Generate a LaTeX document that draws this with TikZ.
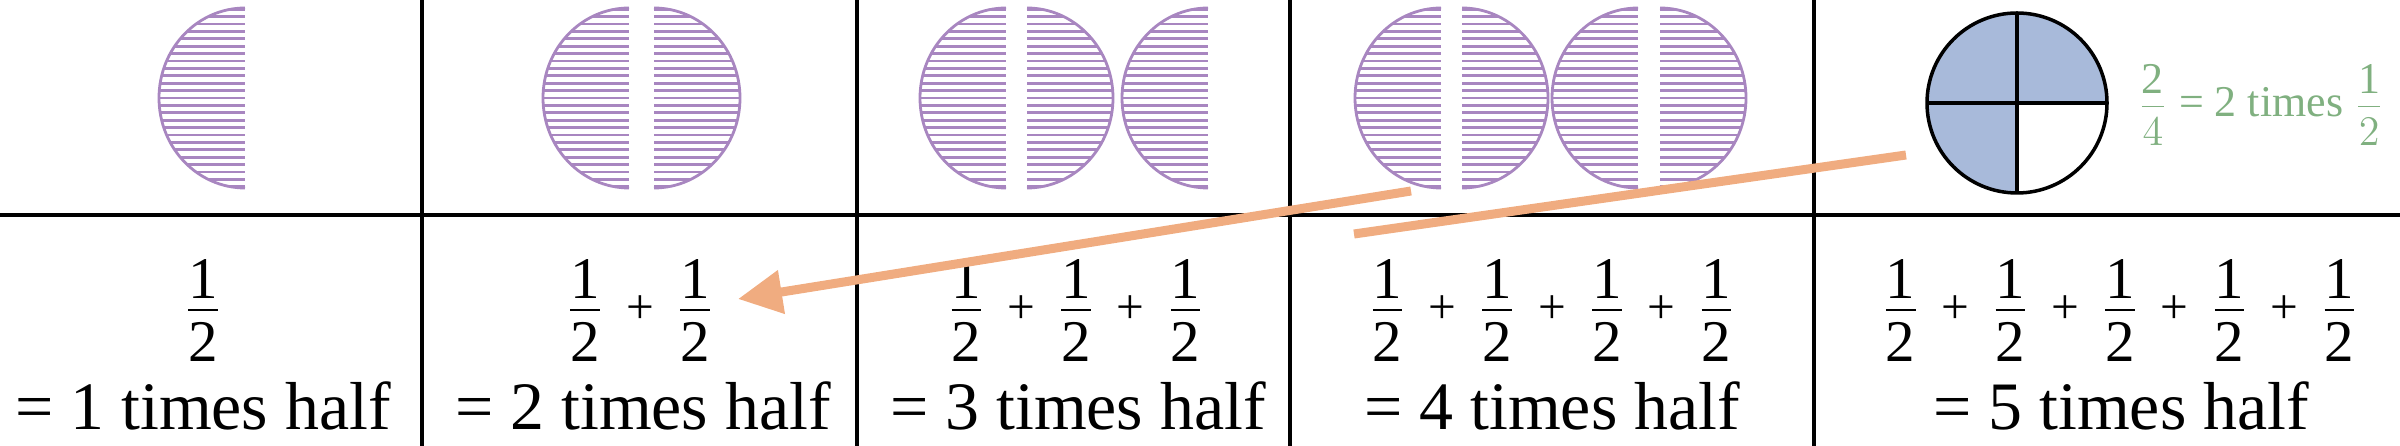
\documentclass[tikz,border=0pt]{standalone}
\usepackage{amsmath}
\usepackage{fontspec}
\setmainfont{Liberation Serif}
\usetikzlibrary{arrows.meta}
\definecolor{hatchpurple}{RGB}{168,134,192}
\definecolor{quarterblue}{RGB}{168,186,218}
\definecolor{notegreen}{RGB}{128,176,128}
\definecolor{pointer}{RGB}{240,172,128}
\tikzset{
  gridline/.style={line width=0.04cm},
  hatch/.style={hatchpurple, line width=0.028cm},
  rim/.style={hatchpurple, line width=0.028cm},
  quartline/.style={line width=0.035cm},
  sumrow/.style={inner sep=0, anchor=base, font=\fontsize{16.8}{20}\selectfont},
  wordrow/.style={inner sep=0, anchor=base, font=\fontsize{19.3}{23}\selectfont},
  notetext/.style={inner sep=0, anchor=base west, text=notegreen, font=\fontsize{12.5}{15}\selectfont},
  pointerline/.style={pointer, line width=0.09cm}
}
\newcommand{\hf}{\dfrac{\raisebox{-0.25em}[0pt][0pt]{1}}{\raisebox{0.09em}[0pt][0pt]{2}}}
\newcommand{\nf}[2]{\dfrac{\raisebox{-0.12em}[0pt][0pt]{#1}}{#2}}
\newcommand{\pl}{\mkern2.5mu\mathbin{\vcenter{\hbox{\fontsize{14}{14}\selectfont+}}}\mkern2.5mu}
\newcommand{\halfL}[1]{ \begin{scope} \clip (#1,438) arc[start angle=90,end angle=270,x radius=86,y radius=90] -- cycle; \foreach \hy in {-12,...,12} \draw[hatch] (#1-90,348+7.4*\hy) -- (#1,348+7.4*\hy); \end{scope} \draw[rim] (#1,438) arc[start angle=90,end angle=270,x radius=86,y radius=90];}
\newcommand{\halfR}[1]{ \begin{scope} \clip (#1,438) arc[start angle=90,end angle=-90,x radius=86,y radius=90] -- cycle; \foreach \hy in {-12,...,12} \draw[hatch] (#1,348+7.4*\hy) -- (#1+90,348+7.4*\hy); \end{scope} \draw[rim] (#1,438) arc[start angle=90,end angle=-90,x radius=86,y radius=90];}

\begin{document}
\begin{tikzpicture}[x=0.01cm,y=0.01cm]
        \useasboundingbox (0,0) rectangle (2400,446);
        % table
        \draw[gridline] (0,231) -- (2400,231);
        \foreach \gx in {422,857,1290,1814}
            \draw[gridline] (\gx,0) -- (\gx,446);

        % halves
        \halfL{245}
        \halfL{629} \halfR{654}
        \halfL{1006} \halfR{1027} \halfL{1208}
        \halfL{1441} \halfR{1462} \halfL{1638} \halfR{1660}

        % quarters
        \fill[quarterblue] (2017,343) -- ++(90,0) arc[start angle=0,end angle=270,radius=90] -- cycle;
        \draw[quartline] (2017,343) circle[radius=90];
        \draw[quartline] (1927,343) -- (2107,343) (2017,253) -- (2017,433);
        \node[notetext] (note) at (2137,329) {$\nf{2}{4}$ = 2 times $\nf{1}{2}$};

        % sums
        \node[sumrow] (sum1) at (203,121) {$\hf$};
        \node[sumrow] (sum2) at (640,121) {$\hf\pl\hf$};
        \node[sumrow] (sum3) at (1076,121) {$\hf\pl\hf\pl\hf$};
        \node[sumrow] (sum4) at (1552,121) {$\hf\pl\hf\pl\hf\pl\hf$};
        \node[sumrow] (sum5) at (2120,121) {$\hf\pl\hf\pl\hf\pl\hf\pl\hf$};

        \node[wordrow] (word1) at (203,16) {= 1 times half};
        \node[wordrow] (word2) at (643,16) {= 2 times half};
        \node[wordrow] (word3) at (1078,16) {= 3 times half};
        \node[wordrow] (word4) at (1552,16) {= 4 times half};
        \node[wordrow] (word5) at (2121,16) {= 5 times half};

        % pointers
        \coordinate (tailA) at (1411,255);
        \coordinate (tipA) at (738,147);
        \draw[pointerline, -{Triangle[length=0.44cm,width=0.42cm]}] (tailA) -- (tipA);
        \coordinate (startB) at (1354,212);
        \coordinate (endB) at (1906,291);
        \draw[pointerline] (startB) -- (endB);
\end{tikzpicture}
\end{document}
